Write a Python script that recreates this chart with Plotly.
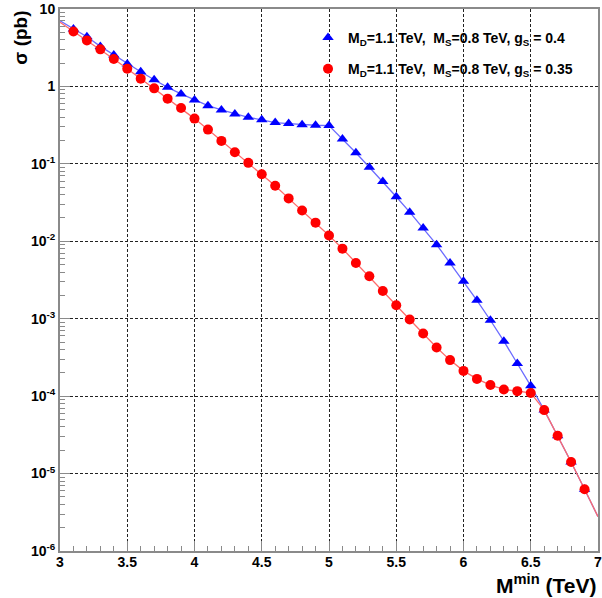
import plotly.graph_objects as go

# M^min values (TeV)
m_min = [3.0, 3.1, 3.2, 3.3, 3.4, 3.5, 3.6, 3.7, 3.8, 3.9,
         4.0, 4.1, 4.2, 4.3, 4.4, 4.5, 4.6, 4.7, 4.8, 4.9,
         5.0, 5.1, 5.2, 5.3, 5.4, 5.5, 5.6, 5.7, 5.8, 5.9,
         6.0, 6.1, 6.2, 6.3, 6.4, 6.5, 6.6, 6.7, 6.8, 6.9, 7.0]

# sigma (pb), g_S = 0.4
sigma_gs04 = [7.05, 5.51, 4.38, 3.29, 2.55, 1.95, 1.55, 1.22, 0.973, 0.80,
              0.67, 0.565, 0.497, 0.442, 0.399, 0.370, 0.341, 0.331, 0.321, 0.315,
              0.312, 0.210, 0.139, 0.0905, 0.0592, 0.0376, 0.0238, 0.0148, 0.00904, 0.00524,
              0.00304, 0.00173, 0.000955, 0.000513, 0.000264, 0.000136, 6.6e-5, 3.08e-5, 1.41e-5, 6.26e-6, 2.78e-6]

# sigma (pb), g_S = 0.35
sigma_gs035 = [6.74, 5.13, 3.93, 3.01, 2.26, 1.69, 1.26, 0.944, 0.695, 0.527,
               0.384, 0.277, 0.198, 0.141, 0.103, 0.0734, 0.0521, 0.0358, 0.0250, 0.0174,
               0.0119, 0.00803, 0.00524, 0.00353, 0.00228, 0.00149, 0.000976, 0.000644, 0.000425, 0.000292,
               0.000212, 0.000167, 0.000139, 0.000122, 0.000116, 0.000110, 6.6e-5, 3.08e-5, 1.41e-5, 6.26e-6, 2.78e-6]

names = ["M<sub>D</sub>=1.1 TeV,&nbsp; M<sub>S</sub>=0.8 TeV, g<sub>S</sub> = 0.4",
         "M<sub>D</sub>=1.1 TeV,&nbsp; M<sub>S</sub>=0.8 TeV, g<sub>S</sub> = 0.35"]

y_tick_vals = [1e-6, 1e-5, 1e-4, 1e-3, 1e-2, 1e-1, 1, 10]
y_tick_text = ["10<sup>-6</sup>", "10<sup>-5</sup>", "10<sup>-4</sup>", "10<sup>-3</sup>",
               "10<sup>-2</sup>", "10<sup>-1</sup>", "1", "10"]

FONT = "Liberation Sans"
AXC = "#8a8a8a"

fig = go.Figure()

fig.add_trace(go.Scatter(x=m_min, y=sigma_gs04, mode="lines",
                         line=dict(color="#6b6bff", width=1.3), showlegend=False, hoverinfo="skip"))
fig.add_trace(go.Scatter(x=m_min[1:-1], y=sigma_gs04[1:-1], mode="markers", name=names[0],
                         legendgroup="a",
                         marker=dict(symbol="triangle-up", size=10, color="#0000ff", line=dict(width=0))))
fig.add_trace(go.Scatter(x=m_min, y=sigma_gs035, mode="lines",
                         line=dict(color="#ff6b6b", width=1.3), showlegend=False, hoverinfo="skip"))
fig.add_trace(go.Scatter(x=m_min[1:-1], y=sigma_gs035[1:-1], mode="markers", name=names[1],
                         legendgroup="b",
                         marker=dict(symbol="circle", size=10, color="#ff0000", line=dict(width=0))))

minor_y = [m * 10 ** k for k in range(-6, 1) for m in range(2, 10)]

fig.update_layout(
    width=602, height=598,
    margin=dict(l=60, r=0, t=9, b=47),
    paper_bgcolor="white", plot_bgcolor="white",
    font=dict(family=FONT, color="black"),
    showlegend=True,
    legend=dict(x=0.461, y=0.976, xanchor="left", yanchor="top",
                bgcolor="rgba(0,0,0,0)", borderwidth=0,
                font=dict(family=FONT, size=14, weight="bold", color="black"),
                traceorder="grouped", tracegroupgap=10, itemsizing="trace"),
    xaxis=dict(range=[3, 7], tickmode="linear", tick0=3, dtick=0.5,
               showline=True, linecolor=AXC, linewidth=2, mirror=True,
               ticks="inside", ticklen=10, tickcolor=AXC, tickwidth=1,
               ticklabeloverflow="allow", ticklabelstandoff=-3,
               tickfont=dict(family=FONT, size=14, weight="bold", color="black"),
               showgrid=True, gridcolor="#222", griddash="3px,2px", gridwidth=1,
               minor=dict(dtick=0.1, ticks="inside", ticklen=5, tickcolor=AXC, showgrid=False),
               zeroline=False),
    yaxis=dict(type="log", range=[-6, 1], tickmode="array",
               tickvals=y_tick_vals, ticktext=y_tick_text,
               showline=True, linecolor=AXC, linewidth=2, mirror=True,
               ticks="inside", ticklen=10, tickcolor=AXC, tickwidth=1,
               tickfont=dict(family=FONT, size=14, weight="bold", color="black"),
               showgrid=True, gridcolor="#222", griddash="3px,2px", gridwidth=1,
               minor=dict(tickmode="array", tickvals=minor_y, ticks="inside", ticklen=5,
                          tickcolor=AXC, showgrid=False),
               zeroline=False),
    annotations=[
        dict(text="<b>σ (pb)</b>", xref="paper", yref="paper", x=-0.075, y=1.0,
             xanchor="center", yanchor="top", textangle=-90, showarrow=False,
             font=dict(family=FONT, size=19, color="black")),
        dict(text="<b>M<sup>min</sup> (TeV)</b>", xref="paper", yref="paper", x=1.0, y=-0.088,
             xanchor="right", yanchor="bottom", showarrow=False,
             font=dict(family=FONT, size=21, color="black")),
    ],
)

fig.write_html("out.html")
